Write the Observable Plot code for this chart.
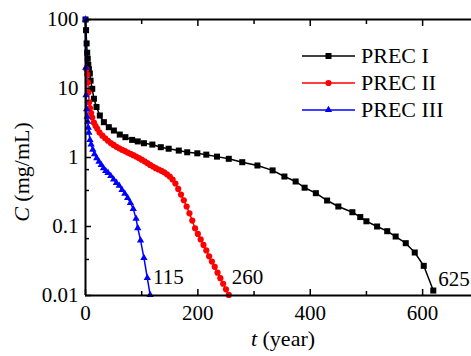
<!DOCTYPE html>
<html><head><meta charset="utf-8">
<script src="https://cdn.jsdelivr.net/npm/d3@7"></script>
<script src="https://cdn.jsdelivr.net/npm/@observablehq/plot@0.6"></script>
<style>
body{margin:0;background:#fff}
#chart svg{display:block}
</style>
</head><body><div id="chart"></div>
<script>
// ---- data ----
const seriesNames = ["PREC I", "PREC II", "PREC III"];
const seriesColors = ["#000000", "#ff0000", "#0000ff"];
const seriesSymbols = ["square", "circle", "triangle"];
const endLabels = ["625", "260", "115"];

const precI_t = [0, 1, 2, 3, 4, 5, 6, 7.7, 9, 12, 15, 19.6, 25.5, 32.7, 41.5, 50.5, 61, 71, 83, 93, 104, 119, 134, 148, 166, 181, 199, 215, 234, 255, 279, 306, 333, 354, 374, 390, 410, 430, 450, 475, 489, 500, 519, 537, 552, 570, 586, 602, 619];
const precI_c = [100, 70, 45, 33, 27, 22, 19, 16.5, 13, 9.9, 7.1, 5.4, 4.06, 3.25, 2.75, 2.46, 2.15, 1.97, 1.8, 1.71, 1.61, 1.54, 1.41, 1.34, 1.26, 1.19, 1.15, 1.1, 1.03, 0.957, 0.855, 0.766, 0.65, 0.53, 0.449, 0.365, 0.304, 0.238, 0.195, 0.161, 0.137, 0.119, 0.1, 0.0855, 0.0716, 0.0573, 0.042, 0.0269, 0.0118];

const precII_t = [1.5, 3, 4.2, 5.3, 6.5, 8, 10, 12, 15, 18, 21, 25, 30, 35, 40, 45, 50, 55, 60, 65, 70, 75, 80, 85, 90, 95, 100, 105, 110, 115, 120, 125, 130, 135, 140, 145, 150, 155, 160, 165, 170, 175, 180, 185, 190, 195, 200, 205, 210, 215, 220, 225, 230, 235, 240, 245, 250, 255];
const precII_c = [19, 16, 12.3, 8.8, 6.3, 5.2, 4.4, 3.8, 3.2, 2.85, 2.6, 2.3, 2.07, 1.9, 1.75, 1.62, 1.52, 1.43, 1.36, 1.29, 1.24, 1.18, 1.13, 1.08, 1.03, 0.98, 0.93, 0.88, 0.83, 0.78, 0.74, 0.7, 0.67, 0.64, 0.61, 0.57, 0.53, 0.48, 0.42, 0.35, 0.29, 0.24, 0.195, 0.155, 0.122, 0.094, 0.078, 0.065, 0.054, 0.045, 0.037, 0.031, 0.026, 0.0214, 0.0178, 0.0148, 0.0123, 0.0102];

const precIII_t = [0, 0.5, 1, 2, 3, 4, 5, 6, 8, 10, 13, 16, 20, 24, 28, 32, 36, 40, 45, 50, 55, 60, 65, 70, 75, 80, 85, 90, 93, 98, 104, 110, 115];
const precIII_c = [100, 20, 8, 5, 3.9, 3.3, 2.7, 2.3, 1.8, 1.55, 1.3, 1.12, 0.98, 0.87, 0.78, 0.7, 0.64, 0.6, 0.54, 0.48, 0.43, 0.39, 0.34, 0.3, 0.26, 0.22, 0.18, 0.13, 0.095, 0.063, 0.035, 0.018, 0.0102];

const xTicks = [0, 200, 400, 600];
const xMinorTicks = [100, 300, 500];
const yTicks = [0.01, 0.1, 1, 10, 100];
const yTickLabels = ["0.01", "0.1", "1", "10", "100"];
const yMinorTicks = [0.0333, 0.0667, 0.333, 0.667, 3.33, 6.67, 33.3, 66.7];

// ---- build table ----
const seriesT = [precI_t, precII_t, precIII_t];
const seriesC = [precI_c, precII_c, precIII_c];
const rows = [];
seriesNames.forEach((name, i) => seriesT[i].forEach((t, j) => rows.push({series: name, t, c: seriesC[i][j]})));
const lastRows = seriesNames.map((name, i) => ({series: name, t: seriesT[i][seriesT[i].length - 1], c: seriesC[i][seriesC[i].length - 1], label: endLabels[i]}));

const FONT = "'Liberation Serif','Times New Roman',serif";
const markerR = {"PREC I": 3.4, "PREC II": 3.1, "PREC III": 2.7};

const marks = [];
seriesNames.forEach((name, i) => {
  const data = rows.filter(d => d.series === name);
  marks.push(Plot.line(data, {x: "t", y: "c", stroke: seriesColors[i], strokeWidth: 1.5}));
  marks.push(Plot.dot(data, {x: "t", y: "c", fill: seriesColors[i], symbol: seriesSymbols[i], r: markerR[name], stroke: "none"}));
});
const labelOffsets = {"PREC I": [5, -5], "PREC II": [3, -11], "PREC III": [3, -11]};
lastRows.forEach(d => {
  marks.push(Plot.text([d], {x: "t", y: "c", text: "label", textAnchor: "start", lineAnchor: "bottom", dx: labelOffsets[d.series][0], dy: labelOffsets[d.series][1], fontSize: 21, fill: "#000"}));
});

const plot = Plot.plot({
  width: 471,
  height: 356,
  marginLeft: 85,
  marginRight: 0,
  marginTop: 19,
  marginBottom: 61,
  style: {fontFamily: FONT, fontSize: "21px", background: "#fff", color: "#000"},
  x: {domain: [0, 687], label: null},
  y: {type: "log", domain: [0.01, 100], label: null},
  marks: [
    ...marks,
    Plot.ruleY([0.01, 100], {strokeWidth: 2}),
    Plot.ruleX([0], {strokeWidth: 2}),
    Plot.axisX({anchor: "bottom", ticks: xTicks, tickSize: -6, tickPadding: 16, strokeWidth: 1.5, tickFormat: d => String(d), fontSize: 21}),
    Plot.axisX({anchor: "bottom", ticks: xMinorTicks, tickSize: -4, tickPadding: 0, strokeWidth: 1.5, tickFormat: () => ""}),
    Plot.axisX({anchor: "top", ticks: xTicks, tickSize: -6, tickPadding: 0, strokeWidth: 1.5, tickFormat: () => ""}),
    Plot.axisX({anchor: "top", ticks: xMinorTicks, tickSize: -4, tickPadding: 0, strokeWidth: 1.5, tickFormat: () => ""}),
    Plot.axisY({anchor: "left", ticks: yTicks, tickSize: -6, tickPadding: 13, strokeWidth: 1.5, tickFormat: d => yTickLabels[yTicks.indexOf(d)], fontSize: 21}),
    Plot.axisY({anchor: "left", ticks: yMinorTicks, tickSize: -4, tickPadding: 0, strokeWidth: 1.5, tickFormat: () => ""})
  ]
});
document.getElementById("chart").appendChild(plot);

// ---- axis titles and legend ----
const svg = d3.select(plot);
const yl = svg.append("text").attr("transform", "translate(29,172) rotate(-90)")
  .attr("text-anchor", "middle").attr("font-size", 22).attr("font-family", FONT).attr("fill", "#000");
yl.append("tspan").attr("font-style", "italic").text("C");
yl.append("tspan").text(" (mg/mL)");
const xl = svg.append("text").attr("x", 283).attr("y", 346)
  .attr("text-anchor", "middle").attr("font-size", 22).attr("font-family", FONT).attr("fill", "#000");
xl.append("tspan").attr("font-style", "italic").text("t");
xl.append("tspan").text(" (year)");

const lg = svg.append("g");
seriesNames.forEach((name, i) => {
  const y = 56 + 27 * i;
  lg.append("line").attr("x1", 302).attr("x2", 355).attr("y1", y).attr("y2", y)
    .attr("stroke", seriesColors[i]).attr("stroke-width", 1.5);
  const sym = {square: d3.symbolSquare, circle: d3.symbolCircle, triangle: d3.symbolTriangle}[seriesSymbols[i]];
  const r = markerR[name];
  lg.append("path").attr("d", d3.symbol(sym, Math.PI * r * r)()).attr("transform", `translate(328.5,${y})`).attr("fill", seriesColors[i]);
  lg.append("text").attr("x", 361).attr("y", y).attr("dy", "0.34em").attr("text-anchor", "start")
    .attr("font-size", 22).attr("font-family", FONT).attr("fill", "#000").text(name);
});
</script>
</body></html>
